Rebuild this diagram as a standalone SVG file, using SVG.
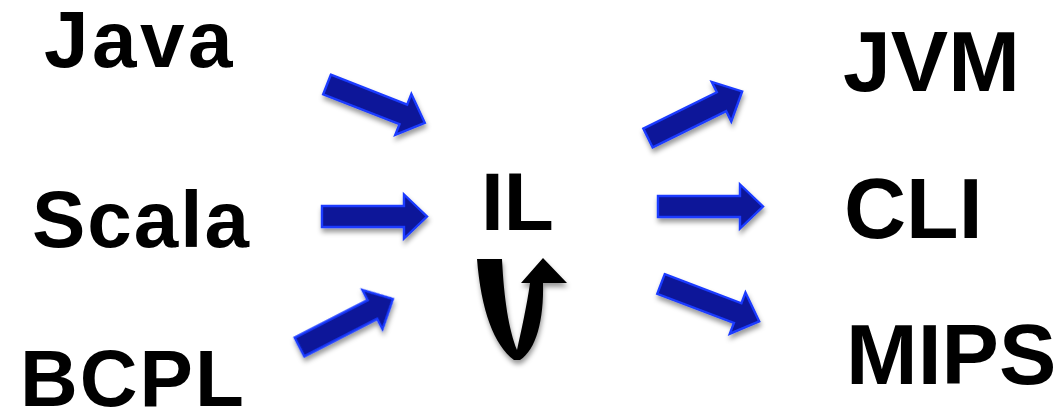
<svg xmlns="http://www.w3.org/2000/svg" width="1055" height="415" viewBox="0 0 1055 415">
  <style>
    .lbl { font-family: "Liberation Sans", Arial, sans-serif; font-weight: bold; fill: #000; }
    .left { font-size: 80px; letter-spacing: 2px; }
    .right { font-size: 86px; }
    .arrow { fill: #0a1799; stroke: #1a3aff; stroke-width: 2.4; stroke-linejoin: miter; }
  </style>
  <defs>
    <filter id="sh" x="-20%" y="-30%" width="140%" height="170%">
      <feDropShadow dx="1" dy="4" stdDeviation="2.5" flood-color="#000" flood-opacity="0.4"/>
    </filter>
    <path id="blk" class="arrow" d="M0,-10.5 H82 V-22 L105,0 L82,22 V10.5 H0 Z"/>
  </defs>
  <rect width="1055" height="415" fill="#fff"/>

  <g id="java"><text class="lbl left" x="44" y="67" style="letter-spacing:3.5px">Java</text></g>
  <g id="scala"><text class="lbl left" x="32" y="247">Scala</text></g>
  <g id="bcpl"><text class="lbl left" x="20" y="406">BCPL</text></g>
  <g id="il"><text class="lbl" x="481" y="230" font-size="82">IL</text></g>
  <g id="jvm"><text class="lbl right" x="843" y="91">JVM</text></g>
  <g id="cli"><text class="lbl right" x="844" y="238">CLI</text></g>
  <g id="mips"><text class="lbl right" x="846" y="384">MIPS</text></g>

  <g id="connectors" filter="url(#sh)">
    <use href="#blk" transform="translate(327,84.5) rotate(21.4)"/>
    <use href="#blk" transform="translate(322,216.5)"/>
    <use href="#blk" transform="translate(299.5,347) rotate(-27.2)"/>
    <use href="#blk" transform="translate(648,138) rotate(-26.3)"/>
    <use href="#blk" transform="translate(658,206.5)"/>
    <use href="#blk" transform="translate(661,284) rotate(20.8)"/>
    <path id="loop" fill="#000" d="M477,259 L502,259 C504,300 509,330 517,350 C521,332 527,305 530,283 L521,283 L543,258 L567,283 L543,283 C544,320 536,350 520,360 L514,360 C494,345 481,310 477,259 Z"/>
  </g>
</svg>
